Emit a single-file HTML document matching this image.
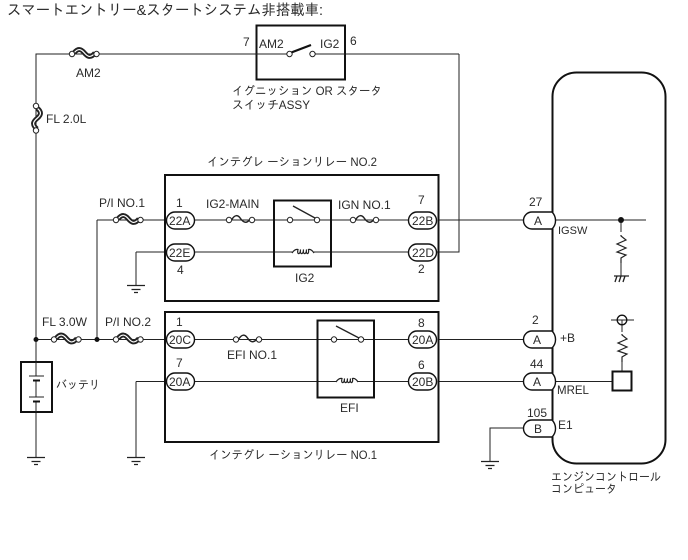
<!DOCTYPE html>
<html><head><meta charset="utf-8"><style>
html,body{margin:0;padding:0;background:#fff;width:688px;height:560px;overflow:hidden}
svg{display:block}
text{font-family:"Liberation Sans","IPAGothic","Noto Sans CJK JP",sans-serif;font-size:12px;fill:#2a2a2a}
.w{fill:none;stroke:#222;stroke-width:1}
.b{fill:none;stroke:#111;stroke-width:2}
.c{fill:#fff;stroke:#222;stroke-width:1}
.f{fill:none;stroke:#222;stroke-width:1.2}
.p{fill:#fff;stroke:#111;stroke-width:1.4}
</style></head><body>
<svg width="688" height="560" viewBox="0 0 688 560" xmlns="http://www.w3.org/2000/svg">
<defs>
<g id="gnd"><path class="w" d="M-9 0.500H9M-4.500 4.500H4.500M-2 7.500H2" style="stroke-width:1.300"/></g>
<g id="fz"><path d="M3 -1C7 -6 10 -5 13 -1.500S19 5 24 -1" fill="none" stroke="#222" stroke-width="5"/><path d="M3 -1C7 -6 10 -5 13 -1.500S19 5 24 -1" fill="none" stroke="#fff" stroke-width="1.200"/><circle class="c" cx="1" cy="0" r="2.700"/><circle class="c" cx="25.500" cy="0" r="2.700"/></g>
<g id="fs"><path d="M2.500 0C6 -6 9 -5 11.500 -1.500S17 4 20.500 0" fill="none" stroke="#222" stroke-width="1.500"/><circle class="c" cx="0" cy="0" r="2.700"/><circle class="c" cx="23" cy="0" r="2.700"/></g>
<g id="coil"><path class="f" d="M-11 1C-9 -2 -7 -3 -5 -2.500C-6.500 3 -2.500 3 -2.500 -2.500C-3.500 3 0.500 3 0.500 -2.500C-0.500 3 3.500 3 3.500 -2.500C2.500 3 6.500 3 5.500 -2.500C7.500 -3 9 -2 11 1"/></g>
<g id="res"><path class="w" d="M0 0V1L5 5L-4 9L5 13L-4 17L5 20L0 23V28" style="stroke-width:1.200"/></g>
</defs>

<text x="7" y="15" textLength="316" lengthAdjust="spacingAndGlyphs" style="font-size:15px">スマートエントリー&amp;スタートシステム非搭載車:</text>

<!-- wires -->
<path class="w" d="M459 54H36V457M459 54V252H408M439 220H524M97 220V339M97 220H165M136 252H165M136 252V285M36 339.500H165M136 381.500H165M136 381.500V457M195 220H408M195 252H408M195 339.500H408M195 381.500H408M439 339.500H524M439 381.500H524M552 220H646M621 220V276M552 381.500H612M622 320V371M524 428H490V461M611 320H634"/>

<!-- switch box -->
<rect class="b" x="256.500" y="25.500" width="88.500" height="54" style="fill:#fff"/>
<path class="w" d="M256 54H289M313 54H345"/>
<path d="M290 53L311 45" stroke="#111" stroke-width="2.200"/>
<circle class="c" cx="289.500" cy="54" r="2.700"/><circle class="c" cx="312.500" cy="54" r="2.700"/>
<text x="243" y="46">7</text><text x="259" y="48">AM2</text><text x="320" y="48">IG2</text><text x="350" y="45">6</text>
<text x="232" y="95" textLength="150" lengthAdjust="spacingAndGlyphs">イグニッション OR スタータ</text>
<text x="232" y="109" textLength="78" lengthAdjust="spacingAndGlyphs">スイッチASSY</text>

<!-- fuses top -->
<use href="#fz" x="71" y="54"/>
<text x="76" y="77">AM2</text>
<use href="#fz" transform="translate(36,105) rotate(90)"/>
<text x="46" y="123">FL 2.0L</text>

<!-- relay 2 -->
<rect class="b" x="165" y="175" width="273.500" height="126"/>
<text x="207" y="166" textLength="170" lengthAdjust="spacingAndGlyphs">インテグレ ーションリレー NO.2</text>
<text x="99" y="207">P/I NO.1</text>
<use href="#fz" x="115" y="220"/>
<text x="176" y="207">1</text><text x="177" y="274">4</text>
<text x="206" y="208">IG2-MAIN</text><use href="#fs" x="229" y="220"/>
<text x="338" y="209">IGN NO.1</text><use href="#fs" x="353" y="220"/>
<text x="418" y="204">7</text><text x="418" y="273">2</text>
<rect class="b" x="274" y="200.500" width="57" height="66"/>
<circle class="c" cx="290" cy="220" r="2.700"/><circle class="c" cx="317" cy="220" r="2.700"/>
<path class="w" d="M293 206L315 218" style="stroke-width:1.300"/>
<path d="M292 247h22v10h-22z" fill="#fff"/><use href="#coil" x="303" y="252"/>
<text x="295" y="282">IG2</text>

<!-- relay 1 -->
<rect class="b" x="165" y="312" width="273.500" height="130"/>
<text x="209" y="459" textLength="168" lengthAdjust="spacingAndGlyphs">インテグレ ーションリレー NO.1</text>
<text x="42" y="326">FL 3.0W</text><use href="#fz" x="53" y="339.500"/>
<text x="105" y="326">P/I NO.2</text><use href="#fz" x="115" y="339.500"/>
<circle cx="36" cy="339.500" r="2.500" fill="#111"/><circle cx="97" cy="339.500" r="2.500" fill="#111"/>
<text x="176" y="326">1</text><text x="176" y="367">7</text>
<use href="#fs" x="236" y="339.500"/><text x="227" y="359">EFI NO.1</text>
<text x="418" y="327">8</text><text x="418" y="369">6</text>
<rect class="b" x="317.500" y="320.500" width="56.500" height="77"/>
<circle class="c" cx="334" cy="339.500" r="2.700"/><circle class="c" cx="361" cy="339.500" r="2.700"/>
<path class="w" d="M336 326L359 338" style="stroke-width:1.300"/>
<path d="M336 376h22v10h-22z" fill="#fff"/><use href="#coil" x="347" y="381"/>
<text x="340" y="412">EFI</text>

<!-- battery -->
<rect class="b" x="21" y="362" width="31" height="50" style="fill:#fff"/>
<path class="w" d="M36 362V376M36 380V397M36 402V412"/>
<path class="w" d="M29 376H44M29 397H44"/><path d="M33 380.500H40M33 401.500H40" stroke="#111" stroke-width="2"/>
<text x="56" y="389" textLength="44" lengthAdjust="spacingAndGlyphs">バッテリ</text>
<use href="#gnd" x="36" y="457"/><use href="#gnd" x="136" y="457"/><use href="#gnd" x="136" y="285"/><use href="#gnd" x="490" y="461"/>

<!-- ECU -->
<rect class="b" x="552.500" y="72.500" width="113" height="391" rx="24" ry="24"/>
<text x="529" y="206">27</text><text x="532" y="324">2</text><text x="530" y="368">44</text><text x="527" y="417">105</text>
<text x="558" y="234" style="font-size:11px">IGSW</text>
<text x="560" y="342" style="font-size:12px">+B</text>
<text x="557" y="394" style="font-size:11.500px">MREL</text>
<text x="558" y="429" style="font-size:12px">E1</text>
<circle cx="621" cy="220" r="3" fill="#111"/>
<path d="M616 232h10v30h-10z" fill="#fff"/><use href="#res" x="621" y="235"/>
<path class="w" d="M614 276H629M617 276L615 282M621 276L619 282M625 276L623 282" style="stroke-width:1.300"/>
<circle cx="622" cy="320" r="4.800" fill="none" stroke="#111" stroke-width="1.300"/>
<path d="M617 332h10v30h-10z" fill="#fff"/><use href="#res" x="622" y="334"/>
<rect class="b" x="612.500" y="371.500" width="19" height="19" style="fill:#fff"/>
<text x="551" y="481" textLength="110" lengthAdjust="spacingAndGlyphs">エンジンコントロール</text>
<text x="551" y="493" textLength="66" lengthAdjust="spacingAndGlyphs">コンピュータ</text>

<!-- connectors -->
<g>
<rect class="p" x="166.500" y="212" width="28" height="17" rx="8.500"/><text x="169" y="225">22A</text>
<rect class="p" x="166.500" y="244" width="28" height="17" rx="8.500"/><text x="169" y="257">22E</text>
<rect class="p" x="408.500" y="212" width="28" height="17" rx="8.500"/><text x="412" y="225">22B</text>
<rect class="p" x="408.500" y="244" width="28" height="17" rx="8.500"/><text x="412" y="257">22D</text>
<rect class="p" x="166.500" y="331" width="28" height="17" rx="8.500"/><text x="169" y="344">20C</text>
<rect class="p" x="166.500" y="373" width="28" height="17" rx="8.500"/><text x="169" y="386">20A</text>
<rect class="p" x="408.500" y="331" width="28" height="17" rx="8.500"/><text x="412" y="344">20A</text>
<rect class="p" x="408.500" y="373" width="28" height="17" rx="8.500"/><text x="412" y="386">20B</text>
<path class="p" d="M552 212H532A8.500 8.500 0 0 0 532 229H552A12 12 0 0 0 552 212Z"/><text x="534" y="225">A</text>
<path class="p" d="M552 331H532A8.500 8.500 0 0 0 532 348H552A12 12 0 0 0 552 331Z"/><text x="533" y="344">A</text>
<path class="p" d="M552 373H532A8.500 8.500 0 0 0 532 390H552A12 12 0 0 0 552 373Z"/><text x="533" y="386">A</text>
<path class="p" d="M552 420H532A8.500 8.500 0 0 0 532 437H552A12 12 0 0 0 552 420Z"/><text x="534" y="433">B</text>
</g>
</svg>
</body></html>
